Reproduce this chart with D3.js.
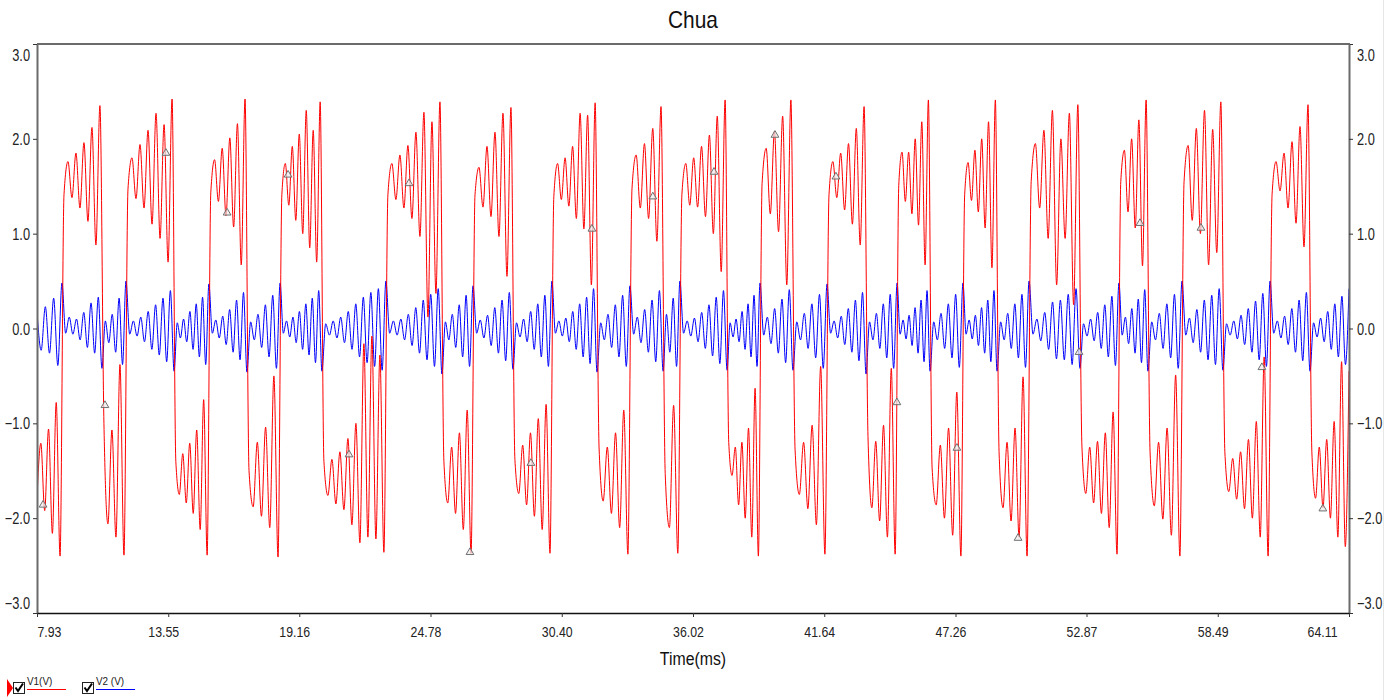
<!DOCTYPE html>
<html>
<head>
<meta charset="utf-8">
<script src="https://cdn.jsdelivr.net/npm/d3@7"></script>
<style>
body { margin: 0; background: #fff; }
svg { display: block; font-family: "Liberation Sans", Arial, sans-serif; }
</style>
</head>
<body>
<div id="chart"></div>
<script>
// Lobe boundaries (ms): V1 switches between the upper and lower scroll here
var switchTimes = [7.93, 9.00, 10.71, 11.74, 13.80, 15.29, 16.92, 18.34, 20.13, 22.87,
    25.27, 26.60, 28.31, 29.98, 31.91, 33.32, 34.74, 35.46, 37.48, 38.89,
    40.30, 41.76, 43.43, 44.76, 46.17, 47.58, 49.04, 50.41, 52.59, 54.26,
    55.50, 56.96, 58.71, 60.73, 62.44, 64.11];

// V1 turning points inside each lobe (V)
var v1Swing = [
    [-1.78, -1.21, -1.92, -1.06, -2.16, -0.78, -2.40],
    [1.41, 1.76, 1.38, 1.85, 1.27, 1.96, 1.13, 2.12, 0.88, 2.35],
    [-1.00, -2.06, -1.07, -2.20, -0.38, -2.39],
    [1.47, 1.80, 1.37, 1.94, 1.27, 2.09, 1.10, 2.27, 0.95, 2.15, 0.70, 2.42],
    [-1.40, -1.75, -1.32, -1.84, -1.21, -1.95, -1.07, -2.12, -0.75, -2.39],
    [1.43, 1.78, 1.34, 1.90, 1.19, 2.01, 1.07, 2.16, 0.67, 2.42],
    [-1.50, -1.88, -1.20, -1.98, -1.04, -2.10, -0.50, -2.41],
    [1.41, 1.74, 1.30, 1.92, 1.14, 2.05, 1.00, 2.30, 0.85, 2.09, 0.70, 2.39],
    [-1.40, -1.76, -1.38, -1.85, -1.30, -1.91, -1.16, -2.07, -1.00, -2.26, -0.16, -2.20, -0.08, -2.22, -0.28, -2.36],
    [1.41, 1.74, 1.36, 1.83, 1.27, 1.93, 1.16, 2.07, 0.97, 2.28, 0.12, 2.18, 0.37, 2.39],
    [-1.40, -1.84, -1.25, -1.95, -1.10, -2.12, -0.86, -2.37],
    [1.41, 1.70, 1.28, 1.92, 1.18, 2.07, 0.97, 2.27, 0.55, 2.33],
    [-1.38, -1.74, -1.23, -1.86, -1.10, -1.98, -0.95, -2.12, -0.80, -2.37],
    [1.39, 1.74, 1.36, 1.80, 1.29, 1.92, 1.16, 2.27, 1.05, 2.25, 0.46, 2.38],
    [-1.26, -1.82, -1.25, -1.95, -1.10, -2.10, -0.86, -2.38],
    [1.48, 1.83, 1.27, 1.95, 1.16, 2.11, 0.92, 2.34],
    [-1.53, -2.10, -0.81, -2.37],
    [1.41, 1.74, 1.30, 1.80, 1.28, 1.92, 1.18, 2.04, 1.00, 2.24, 0.60, 2.41],
    [-1.20, -1.55, -1.25, -1.86, -1.20, -2.00, -1.05, -2.20, -0.63, -2.40],
    [1.53, 1.90, 1.21, 2.08, 1.02, 2.24, 0.46, 2.41],
    [-1.28, -1.75, -1.20, -1.90, -1.02, -2.07, -0.40, -2.38],
    [1.41, 1.76, 1.38, 1.85, 1.25, 1.95, 1.10, 2.11, 0.88, 2.34],
    [-1.14, -1.89, -1.19, -2.03, -1.02, -2.20, -0.42, -2.38],
    [1.51, 1.86, 1.34, 1.86, 1.21, 2.00, 1.09, 2.18, 0.67, 2.41],
    [-1.47, -1.86, -1.23, -2.00, -1.05, -2.18, -0.67, -2.40],
    [1.41, 1.75, 1.35, 1.88, 1.23, 2.00, 1.06, 2.18, 0.64, 2.41],
    [-1.30, -1.89, -1.20, -2.03, -1.05, -2.20, -0.51, -2.40],
    [1.55, 1.95, 1.27, 2.09, 0.95, 2.30, 0.46, 2.00, 0.95, 2.27, 0.25, 2.36],
    [-1.24, -1.74, -1.25, -1.84, -1.19, -1.95, -1.10, -2.10, -0.88, -2.38],
    [1.55, 1.88, 1.23, 2.00, 1.06, 2.20, 0.66, 2.41],
    [-1.30, -1.87, -1.20, -2.01, -1.05, -2.18, -0.49, -2.40],
    [1.55, 1.93, 1.14, 2.11, 1.00, 2.30, 0.67, 2.10, 0.80, 2.39],
    [-1.30, -1.72, -1.37, -1.80, -1.30, -1.90, -1.17, -2.00, -0.98, -2.20, -0.30, -2.40],
    [1.41, 1.76, 1.45, 1.85, 1.27, 1.97, 1.11, 2.13, 0.86, 2.36],
    [-1.30, -1.79, -1.25, -1.89, -1.17, -2.00, -0.98, -2.20, -0.35, -2.30, -0.45]
];

// V2 turning points inside each lobe (V)
var v2Swing = [
    [0.18, -0.23, 0.23, -0.26, 0.32, -0.39],
    [0.48, -0.05, 0.12, -0.06, 0.10, -0.12, 0.17, -0.20, 0.27, -0.26, 0.33],
    [-0.42, 0.08, -0.15, 0.15, -0.25, 0.32, -0.38],
    [0.50, -0.06, 0.08, -0.08, 0.12, -0.14, 0.18, -0.22, 0.25, -0.28, 0.32, -0.35, 0.40],
    [-0.45, 0.06, -0.10, 0.10, -0.14, 0.18, -0.22, 0.26, -0.30, 0.33, -0.38],
    [0.47, -0.05, 0.09, -0.10, 0.13, -0.17, 0.20, -0.25, 0.30, -0.33, 0.38],
    [-0.46, 0.07, -0.12, 0.15, -0.20, 0.25, -0.30, 0.35, -0.42],
    [0.48, -0.05, 0.08, -0.09, 0.12, -0.15, 0.18, -0.22, 0.26, -0.28, 0.32, -0.36, 0.40],
    [-0.45, 0.05, -0.07, 0.08, -0.10, 0.12, -0.15, 0.18, -0.22, 0.26, -0.30, 0.33, -0.36, 0.38, -0.40, 0.42, -0.44],
    [0.50, -0.05, 0.08, -0.07, 0.10, -0.12, 0.15, -0.18, 0.22, -0.26, 0.30, -0.33, 0.36, -0.40, 0.42],
    [-0.48, 0.07, -0.12, 0.15, -0.20, 0.25, -0.30, 0.35, -0.40],
    [0.45, -0.05, 0.09, -0.10, 0.14, -0.18, 0.22, -0.26, 0.30, -0.34, 0.38],
    [-0.43, 0.06, -0.09, 0.10, -0.14, 0.18, -0.22, 0.26, -0.30, 0.35, -0.40],
    [0.50, -0.05, 0.08, -0.08, 0.11, -0.14, 0.18, -0.22, 0.26, -0.30, 0.33, -0.37, 0.42],
    [-0.46, 0.06, -0.12, 0.15, -0.20, 0.25, -0.30, 0.35, -0.40],
    [0.45, -0.06, 0.12, -0.15, 0.20, -0.25, 0.30, -0.35, 0.40],
    [-0.45, 0.15, -0.25, 0.32, -0.40],
    [0.50, -0.05, 0.08, -0.08, 0.11, -0.14, 0.17, -0.21, 0.25, -0.29, 0.33, -0.37, 0.40],
    [-0.44, 0.06, -0.09, 0.10, -0.14, 0.18, -0.22, 0.26, -0.30, 0.35, -0.40],
    [0.48, -0.07, 0.12, -0.16, 0.21, -0.26, 0.31, -0.36, 0.41],
    [-0.44, 0.07, -0.12, 0.16, -0.21, 0.26, -0.31, 0.36, -0.42],
    [0.47, -0.05, 0.08, -0.10, 0.13, -0.17, 0.21, -0.25, 0.30, -0.34, 0.38],
    [-0.48, 0.07, -0.12, 0.16, -0.21, 0.26, -0.31, 0.36, -0.42],
    [0.48, -0.06, 0.09, -0.11, 0.14, -0.18, 0.22, -0.26, 0.30, -0.35, 0.40],
    [-0.45, 0.07, -0.12, 0.16, -0.21, 0.26, -0.31, 0.36, -0.41],
    [0.48, -0.06, 0.09, -0.11, 0.14, -0.18, 0.22, -0.26, 0.30, -0.35, 0.40],
    [-0.45, 0.07, -0.12, 0.16, -0.21, 0.26, -0.31, 0.36, -0.41],
    [0.50, -0.06, 0.10, -0.13, 0.17, -0.22, 0.28, -0.32, 0.30, -0.33, 0.36, -0.38, 0.42],
    [-0.42, 0.05, -0.08, 0.10, -0.13, 0.17, -0.21, 0.25, -0.30, 0.34, -0.39],
    [0.48, -0.07, 0.12, -0.16, 0.21, -0.26, 0.31, -0.36, 0.41],
    [-0.45, 0.07, -0.12, 0.16, -0.21, 0.26, -0.31, 0.36, -0.42],
    [0.50, -0.07, 0.11, -0.15, 0.20, -0.25, 0.30, -0.33, 0.35, -0.38, 0.42],
    [-0.44, 0.05, -0.07, 0.08, -0.11, 0.14, -0.17, 0.21, -0.25, 0.29, -0.33, 0.37, -0.40],
    [0.50, -0.05, 0.08, -0.10, 0.13, -0.17, 0.21, -0.25, 0.30, -0.34, 0.38],
    [-0.45, 0.06, -0.09, 0.11, -0.14, 0.18, -0.22, 0.26, -0.30, 0.34, -0.38, 0.42]
];

// cursor markers sitting on V1
var markerTimes = [8.19, 10.84, 13.45, 16.07, 18.68, 21.29, 23.86, 26.47, 29.08, 31.69, 34.30,
    36.92, 39.53, 42.14, 44.75, 47.32, 49.94, 52.55, 55.16, 57.77, 60.38, 62.99];
var markerValues = [-1.86, -0.81, 1.85, 1.22, 1.62, -1.33, 1.53, -2.36, -1.42, 1.05, 1.39,
    1.65, 2.04, 1.60, -0.78, -1.26, -2.21, -0.25, 1.11, 1.06, -0.41, -1.90];

var yTicks = [3, 2, 1, 0, -1, -2, -3];
var xTickLabels = ["7.93", "13.55", "19.16", "24.78", "30.40", "36.02", "41.64", "47.26", "52.87", "58.49", "64.11"];

var width = 1394, height = 700;
var margin = {top: 44, right: 45, bottom: 87, left: 37};
var plotW = width - margin.left - margin.right,
    plotH = height - margin.top - margin.bottom;

var svg = d3.select('#chart').append('svg')
    .attr('width', width)
    .attr('height', height);

// squeeze text horizontally like the narrow GDI rendering of the original
function squash(sel, k) {
    sel.each(function() {
        var w = this.getComputedTextLength();
        d3.select(this).attr('textLength', w * k).attr('lengthAdjust', 'spacingAndGlyphs');
    });
}

var x = d3.scaleLinear().domain([7.93, 64.11]).range([0, plotW]);
var y = d3.scaleLinear().domain([-3, 3]).range([plotH, 0]);

// Build the traces from the turning points of each lobe
var v1Points = [], v2Points = [];
var nLobes = v1Swing.length;
v1Swing.forEach(function(vals, k) {
    var t0 = switchTimes[k], t1 = switchTimes[k + 1];
    var first = k === 0, last = k === nLobes - 1;
    var n = vals.length;
    var dt = (t1 - t0) / ((first || last) ? n - 0.5 : n);
    vals.forEach(function(v, i) {
        var t = first ? t0 + i * dt : t0 + (i + 0.5) * dt;
        v1Points.push([t, v]);
    });
    var b = v2Swing[k], m = b.length;
    var db = (t1 - t0) / (last ? m - 1 : m);
    b.forEach(function(v, i) {
        v2Points.push([t0 + i * db, v]);
    });
});

// faint panel edge on the right
svg.append('line')
    .attr('x1', 1383.5).attr('x2', 1383.5)
    .attr('y1', 0).attr('y2', height)
    .attr('stroke', '#e6e6e6');

// Title
svg.append('text')
    .attr('x', margin.left + plotW / 2)
    .attr('y', 28)
    .attr('text-anchor', 'middle')
    .attr('font-size', 24)
    .attr('fill', '#111')
    .text('Chua')
    .call(squash, 0.87);

var graph = svg.append('g')
    .attr('transform', 'translate(' + margin.left + ',' + margin.top + ')');

graph.append('clipPath').attr('id', 'plotclip')
    .append('rect').attr('x', 0).attr('y', 0).attr('width', plotW).attr('height', plotH);

var line = d3.line()
    .x(function(d) { return x(d[0]); })
    .y(function(d) { return y(d[1]); })
    .curve(d3.curveMonotoneX);

var traces = graph.append('g').attr('clip-path', 'url(#plotclip)');

traces.append('path')
    .datum(v2Points)
    .attr('fill', 'none')
    .attr('stroke', '#0000ff')
    .attr('stroke-width', 1)
    .attr('d', line);

traces.append('path')
    .datum(v1Points)
    .attr('fill', 'none')
    .attr('stroke', '#ff0000')
    .attr('stroke-width', 1)
    .attr('d', line);

// markers
traces.selectAll('path.marker')
    .data(markerTimes)
    .enter()
    .append('path')
    .classed('marker', true)
    .attr('d', d3.symbol().type(d3.symbolTriangle).size(26))
    .attr('transform', function(d, i) {
        return 'translate(' + x(d) + ',' + y(markerValues[i]) + ')';
    })
    .attr('fill', 'rgba(235,235,235,0.7)')
    .attr('stroke', '#707070')
    .attr('stroke-width', 1);

// Axes
var yFormat = function(d) { return d3.format('.1f')(d); };

var yAxisL = d3.axisLeft(y).tickValues(yTicks).tickFormat(yFormat).tickSize(4).tickSizeOuter(0).tickPadding(3);
var yAxisR = d3.axisRight(y).tickValues(yTicks).tickFormat(yFormat).tickSize(4).tickSizeOuter(0).tickPadding(4);
var xAxis = d3.axisBottom(x)
    .tickValues(xTickLabels.map(Number))
    .tickFormat(function(d, i) { return xTickLabels[i]; })
    .tickSize(4).tickSizeOuter(0).tickPadding(9);

function styleY(g) {
    g.select('.domain').attr('stroke', '#6b6b6b').attr('stroke-width', 2);
    g.selectAll('.tick line').attr('stroke', '#333');
    g.selectAll('.tick text')
        .attr('font-size', 16)
        .attr('font-family', '"Liberation Sans", Arial, sans-serif')
        .attr('fill', '#222')
        .attr('dy', function(d) { return d === 3 ? '1.05em' : (d === -3 ? '-0.3em' : '0.35em'); })
        .call(squash, 0.8);
}

graph.append('g').classed('y axis', true).call(yAxisL).call(styleY);
graph.append('g').classed('y axis right', true)
    .attr('transform', 'translate(' + plotW + ',0)')
    .call(yAxisR).call(styleY);

// top frame line
graph.append('line')
    .attr('x1', 0).attr('x2', plotW + 1)
    .attr('y1', 0).attr('y2', 0)
    .attr('stroke', '#6b6b6b').attr('stroke-width', 2);

var xg = graph.append('g')
    .classed('x axis', true)
    .attr('transform', 'translate(0,' + plotH + ')')
    .call(xAxis);
xg.select('.domain').attr('stroke', '#111').attr('stroke-width', 1.5);
xg.selectAll('.tick line').attr('stroke', '#333');
xg.selectAll('.tick text')
    .attr('font-size', 15)
    .attr('font-family', '"Liberation Sans", Arial, sans-serif')
    .attr('fill', '#222')
    .call(squash, 0.82)
    .attr('text-anchor', function(d, i) {
        return i === 0 ? 'start' : (i === xTickLabels.length - 1 ? 'end' : 'middle');
    })
    .attr('dx', function(d, i) {
        return i === 0 ? 0 : (i === xTickLabels.length - 1 ? -12 : -5);
    });

// x axis title
svg.append('text')
    .attr('x', margin.left + plotW / 2)
    .attr('y', 665)
    .attr('text-anchor', 'middle')
    .attr('font-size', 18)
    .attr('fill', '#111')
    .text('Time(ms)')
    .call(squash, 0.88);

// Legend
var legendItems = [
    {label: 'V1(V)', color: '#ff0000', x: 13},
    {label: 'V2 (V)', color: '#0000ff', x: 82}
];

svg.append('path')
    .attr('d', 'M7,679 L13,688 L7,697 Z')
    .attr('fill', '#ff0000');

var legend = svg.selectAll('g.legend')
    .data(legendItems)
    .enter()
    .append('g')
    .classed('legend', true)
    .attr('transform', function(d) { return 'translate(' + d.x + ',0)'; });

legend.append('rect')
    .attr('x', 0.5).attr('y', 682.5)
    .attr('width', 11).attr('height', 11)
    .attr('fill', '#fff').attr('stroke', '#222');

legend.append('path')
    .attr('d', 'M2.5,687.5 L5,691 L10,683.5')
    .attr('fill', 'none').attr('stroke', '#000').attr('stroke-width', 2);

legend.append('text')
    .attr('x', 14).attr('y', 685)
    .attr('font-size', 11)
    .attr('fill', '#222')
    .text(function(d) { return d.label; })
    .call(squash, 0.9);

legend.append('line')
    .attr('x1', 14).attr('x2', 53)
    .attr('y1', 689.5).attr('y2', 689.5)
    .attr('stroke', function(d) { return d.color; })
    .attr('stroke-width', 1);
</script>
</body>
</html>
